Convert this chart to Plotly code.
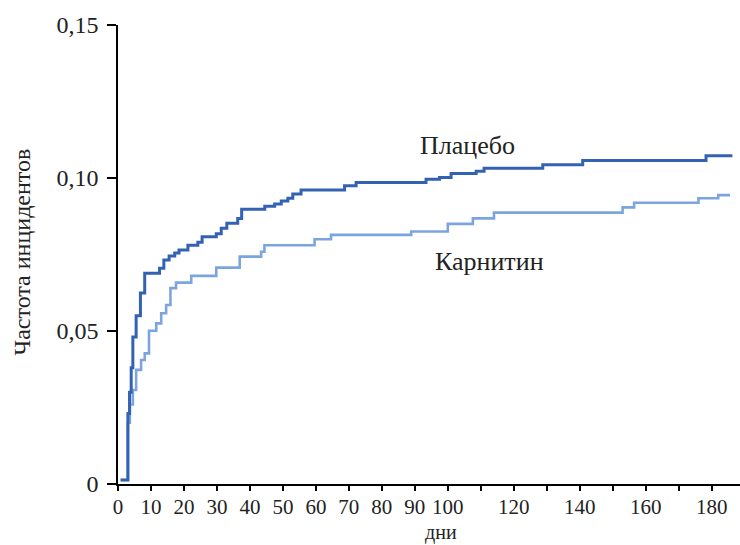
import plotly.graph_objects as go

# Placebo cumulative incidence (step function): days, values
placebo_days = [0.8, 3.0, 3.5, 4.0, 4.5, 5.5, 6.8, 8.1, 12.6, 13.9, 15.5, 17.2, 18.5, 21.2, 24.2, 25.5,
                29.8, 31.3, 33.0, 36.3, 37.5, 44.5, 47.5, 49.5, 51.5, 53.0, 55.5, 68.7, 72.2,
                93.4, 97.5, 101.0, 108.6, 111.0, 128.8, 140.9, 178.3, 186.3]
placebo_vals = [0.0013, 0.023, 0.030, 0.038, 0.048, 0.055, 0.0624, 0.0689, 0.0705, 0.0732, 0.0745,
                0.0755, 0.0765, 0.078, 0.0790, 0.0808, 0.0818, 0.0836, 0.0852, 0.0868, 0.0898,
                0.0908, 0.0915, 0.0925, 0.0934, 0.0948, 0.0961, 0.0975, 0.0985,
                0.0996, 0.1002, 0.1015, 0.1022, 0.1032, 0.1043, 0.1057, 0.1073, 0.1073]

# Carnitine cumulative incidence (step function)
carnitine_days = [0.8, 3.0, 3.6, 4.5, 5.5, 7.0, 8.1, 9.4, 11.6, 13.1, 14.6, 15.9, 17.6, 22.2, 29.8,
                  36.9, 43.4, 44.4, 59.6, 64.6, 88.9, 100.0, 107.6, 114.0, 153.0, 156.5, 176.0,
                  182.0, 185.6]
carnitine_vals = [0.0013, 0.020, 0.026, 0.0307, 0.0373, 0.0405, 0.0427, 0.0501, 0.0525, 0.0558,
                  0.0585, 0.064, 0.0658, 0.068, 0.0707, 0.0743, 0.0759, 0.078, 0.080, 0.0814,
                  0.0825, 0.085, 0.0868, 0.0887, 0.0904, 0.0919, 0.0934, 0.0944, 0.0944]

x_tickvals = [0, 10, 20, 30, 40, 50, 60, 70, 80, 90, 100, 110, 120, 130, 140, 150, 160, 170, 180]
x_ticktext = ["0", "10", "20", "30", "40", "50", "60", "70", "80", "90", "100", "", "120", "",
              "140", "", "160", "", "180"]
y_tickvals = [0, 0.05, 0.10, 0.15]
y_ticktext = ["0", "0,05", "0,10", "0,15"]

FONT = "Liberation Serif"
TXT = "#222222"

fig = go.Figure()
fig.add_trace(go.Scatter(x=carnitine_days, y=carnitine_vals, mode="lines",
                         line=dict(shape="hv", color="#7ca5e0", width=2.6), name="Карнитин"))
fig.add_trace(go.Scatter(x=placebo_days, y=placebo_vals, mode="lines",
                         line=dict(shape="hv", color="#3462b2", width=3), name="Плацебо"))

fig.add_annotation(x=106, y=0.1105, text="Плацебо", showarrow=False,
                   font=dict(family=FONT, size=26, color=TXT))
fig.add_annotation(x=112.5, y=0.0727, text="Карнитин", showarrow=False,
                   font=dict(family=FONT, size=26, color=TXT))
# axis titles
fig.add_annotation(xref="paper", yref="paper", x=0.519, y=-0.1325, text="дни", showarrow=False,
                   xanchor="center", yanchor="bottom", borderpad=0,
                   font=dict(family=FONT, size=20, color=TXT))
fig.add_annotation(xref="paper", yref="paper", x=-0.154, y=0.505, text="Частота инцидентов",
                   showarrow=False, textangle=-90, xanchor="center", yanchor="middle",
                   font=dict(family=FONT, size=24, color=TXT))

fig.update_layout(
    width=740, height=545,
    margin=dict(l=118, r=0, t=25, b=61, autoexpand=False),
    paper_bgcolor="white", plot_bgcolor="white",
    showlegend=False,
    font=dict(family=FONT, size=24, color=TXT),
)
fig.update_xaxes(range=[0, 188.6], tickvals=x_tickvals, ticktext=x_ticktext, automargin=False,
                 showline=True, linecolor="black", linewidth=1.5, ticks="outside",
                 ticklen=5, tickcolor="black", tickwidth=1.5, showgrid=False, zeroline=False,
                 ticklabelstandoff=-2,
                 tickfont=dict(family=FONT, size=21, color=TXT))
fig.update_yaxes(range=[0, 0.15], tickvals=y_tickvals, ticktext=y_ticktext, automargin=False,
                 showline=True, linecolor="black", linewidth=1.5, ticks="outside",
                 ticklen=9, tickcolor="black", tickwidth=1.5, showgrid=False, zeroline=False,
                 ticklabelstandoff=4,
                 tickfont=dict(family=FONT, size=24, color=TXT))

fig.write_html("out.html", config={"displayModeBar": False},
               post_script="document.body.style.margin='0';document.body.style.padding='0';")
